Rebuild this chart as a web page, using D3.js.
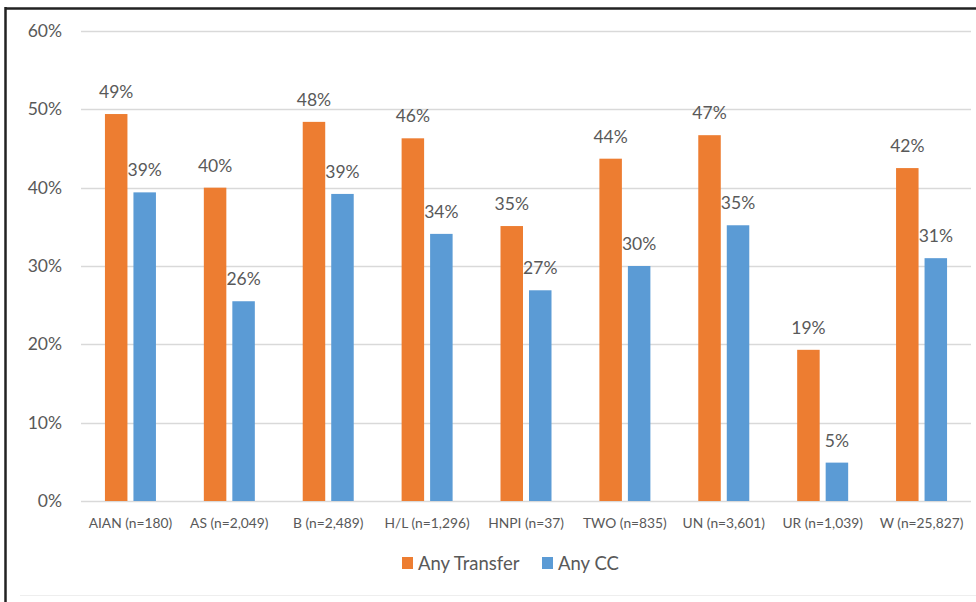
<!DOCTYPE html>
<html><head><meta charset="utf-8">
<script src="https://cdn.jsdelivr.net/npm/d3@7"></script>
<style>body{margin:0;background:#fff;} svg{display:block;}</style>
</head><body>
<svg id="c" width="976" height="602"></svg>
<script>
const categories = ["AIAN (n=180)","AS (n=2,049)","B (n=2,489)","H/L (n=1,296)","HNPI (n=37)","TWO (n=835)","UN (n=3,601)","UR (n=1,039)","W (n=25,827)"];
const anyTransfer = [49.4, 40.0, 48.4, 46.3, 35.1, 43.7, 46.7, 19.3, 42.5];
const anyCC = [39.4, 25.5, 39.2, 34.1, 26.9, 30.0, 35.2, 4.9, 31.0];
const transferLabels = ["49%","40%","48%","46%","35%","44%","47%","19%","42%"];
const ccLabels = ["39%","26%","39%","34%","27%","30%","35%","5%","31%"];
const yTicks = [0,10,20,30,40,50,60];
const seriesNames = ["Any Transfer","Any CC"];
const colors = ["#ED7D31","#5B9BD5"];

const svg = d3.select("#c");
const font = "Lato, 'Open Sans', sans-serif";
const txt = "#595959";

// frame
svg.append("line").attr("x1",5).attr("x2",976).attr("y1",8.5).attr("y2",8.5).attr("stroke","#222").attr("stroke-width",2.5);
svg.append("line").attr("x1",5.5).attr("x2",5.5).attr("y1",7).attr("y2",602).attr("stroke","#222").attr("stroke-width",2.5);
svg.append("line").attr("x1",20).attr("x2",976).attr("y1",595.5).attr("y2",595.5).attr("stroke","#eeeeee").attr("stroke-width",1);

const x = d3.scaleBand().domain(categories).range([81,971]);
const y = d3.scaleLinear().domain([0,60]).range([501,31]);

// grid
svg.append("g").selectAll("line").data(yTicks).join("line")
  .attr("x1",81).attr("x2",971).attr("y1",d=>Math.round(y(d))+0.5).attr("y2",d=>Math.round(y(d))+0.5)
  .attr("stroke","#d9d9d9").attr("stroke-width",1.3);

// y labels
svg.append("g").selectAll("text").data(yTicks).join("text")
  .attr("x",62).attr("y",d=>y(d)).attr("dy","0.35em").attr("text-anchor","end")
  .attr("font-family",font).attr("font-size",17.5).attr("fill",txt).text(d=>d+"%");

// x labels
svg.append("g").selectAll("text").data(categories).join("text")
  .attr("x",d=>x(d)+x.bandwidth()/2).attr("y",523).attr("dy","0.35em").attr("text-anchor","middle")
  .attr("font-family",font).attr("font-size",13.8).attr("fill",txt).text(d=>d);

const bw = 22.5, gap = 6;
const series = [anyTransfer, anyCC];
const labels = [transferLabels, ccLabels];
series.forEach((vals,si)=>{
  const off = si===0 ? -gap/2-bw : gap/2;
  const g = svg.append("g");
  g.selectAll("rect").data(vals).join("rect")
    .attr("x",(d,i)=>x(categories[i])+x.bandwidth()/2+off)
    .attr("width",bw)
    .attr("y",d=>y(d)).attr("height",d=>y(0)-y(d))
    .attr("fill",colors[si]);
  g.selectAll("text").data(vals).join("text")
    .attr("x",(d,i)=>x(categories[i])+x.bandwidth()/2+off+bw/2)
    .attr("y",d=>y(d)-16)
    .attr("text-anchor","middle").attr("font-family",font).attr("font-size",17.5).attr("fill",txt)
    .text((d,i)=>labels[si][i]);
});

// legend
const leg = [{n:seriesNames[0],c:colors[0],x:402},{n:seriesNames[1],c:colors[1],x:542}];
leg.forEach(l=>{
  svg.append("rect").attr("x",l.x).attr("y",557).attr("width",11).attr("height",12).attr("fill",l.c);
  svg.append("text").attr("x",l.x+16).attr("y",563.5).attr("dy","0.35em")
    .attr("font-family",font).attr("font-size",18.5).attr("fill",txt).text(l.n);
});
</script>
</body></html>
